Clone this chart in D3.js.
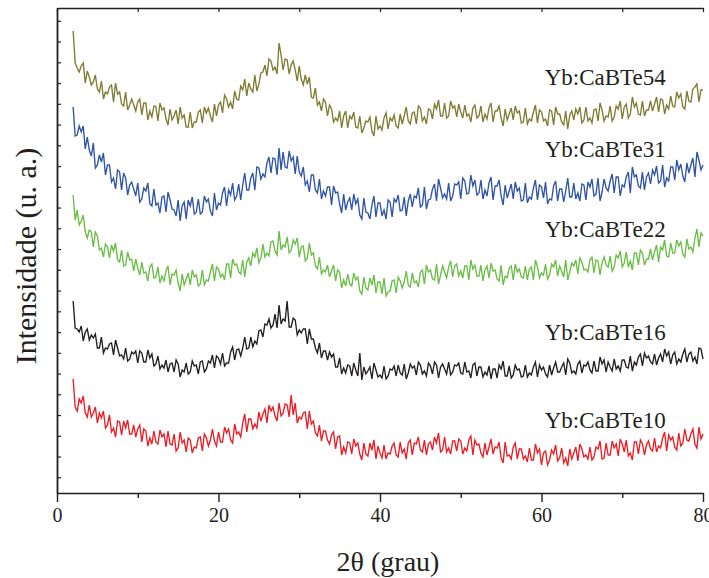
<!DOCTYPE html>
<html>
<head>
<meta charset="utf-8">
<script src="https://cdn.jsdelivr.net/npm/d3@7"></script>
<style>
  html, body { margin: 0; padding: 0; background: #fff; }
  svg { display: block; }
  text { font-family: "Liberation Serif", "Times New Roman", serif; fill: #231f20; }
</style>
</head>
<body>
<svg id="chart" width="709" height="578"></svg>
<script>
// 2θ scan: 2° to 80° in 0.25° steps
const scanStart = 2;
const scanStep = 0.25;

// Stacked XRD patterns (intensity, arbitrary units, already offset for stacking)
const yb54 = [462,430,425,421,427,430,410,422,416,408,411,418,404,401,412,394,401,399,406,408,
  391,410,399,401,389,387,401,383,388,394,388,382,391,394,378,390,390,373,382,376,
  387,386,372,390,383,385,374,368,384,373,377,383,369,386,375,378,366,366,381,365,
  371,371,381,383,370,386,380,385,377,371,389,377,388,391,380,398,394,386,391,384,
  402,394,393,407,403,414,397,410,404,401,418,402,409,420,421,428,417,434,432,423,
  426,419,450,438,423,434,433,419,428,432,423,412,427,414,408,418,409,416,396,395,
  405,388,391,382,394,391,377,388,384,371,375,372,382,365,377,382,365,377,374,381,
  366,365,377,360,365,372,371,376,362,357,377,364,367,363,375,380,364,375,372,378,
  367,365,379,369,377,386,372,369,380,381,369,387,385,372,376,369,384,383,374,389,
  384,393,377,377,390,375,377,392,385,387,376,389,381,375,388,377,379,371,385,388,
  375,377,387,371,379,374,385,390,371,382,382,387,375,367,384,373,379,385,373,387,
  380,382,370,371,385,369,374,372,381,388,370,383,381,372,374,367,383,382,368,386,
  379,379,371,368,382,364,378,382,373,384,379,386,370,373,386,372,375,370,383,384,
  372,390,383,372,377,376,387,372,376,387,384,392,374,386,389,375,379,396,386,390,
  379,378,392,377,383,383,392,382,389,396,381,394,393,379,388,384,397,387,386,401,
  395,399,386,384,402,392,391,404,406,409,391,403,403];

const yb31 = [386,357,358,367,361,367,344,356,343,337,350,325,328,338,331,340,318,328,328,311,
  315,304,323,321,303,320,315,298,308,311,304,297,310,291,294,305,302,310,289,287,
  304,288,290,280,296,297,281,301,293,284,283,277,293,272,287,291,274,293,287,296,
  279,281,294,279,281,297,291,294,282,277,300,283,290,288,300,306,287,303,298,310,
  293,297,309,293,308,320,303,303,315,320,303,326,325,314,319,316,330,336,320,335,
  334,318,345,323,341,326,325,342,332,336,319,337,321,317,326,308,312,301,318,318,
  303,300,314,294,302,297,306,306,288,307,300,301,289,280,299,283,291,295,283,299,
  289,294,278,274,295,281,280,274,288,297,276,290,290,277,283,274,293,291,276,294,
  291,298,282,283,296,277,292,299,286,297,295,305,286,288,306,284,293,294,304,309,
  292,314,305,295,299,294,310,292,297,309,308,311,294,315,312,299,300,318,307,313,
  298,300,313,294,303,297,310,316,293,307,307,313,297,288,308,295,302,309,294,311,
  302,305,292,293,310,290,296,294,305,313,293,308,306,295,311,289,294,293,307,312,
  292,304,304,291,302,315,296,296,310,294,300,292,309,308,293,311,306,314,297,299,
  315,292,301,314,305,302,312,319,300,316,316,297,308,306,316,321,300,326,316,318,
  307,305,321,303,316,320,309,323,318,327,310,312,328,306,315,312,326,326,313,333,
  323,329,317,311,330,320,328,335,316,341,333,323,328];

const yb22 = [298,273,283,268,272,278,261,255,263,261,246,261,257,243,245,236,249,246,235,248,
  242,250,233,231,243,227,228,241,233,234,222,234,225,218,231,220,221,212,226,229,
  215,216,226,210,217,212,222,227,208,219,218,223,210,202,219,208,214,220,208,223,
  216,218,207,209,223,208,213,212,221,229,212,226,224,216,219,213,229,229,215,234,
  228,229,221,219,233,216,231,235,227,240,236,245,230,235,249,236,240,237,251,252,
  242,238,262,243,248,246,256,240,243,253,249,255,236,246,247,232,235,250,238,240,
  227,224,236,219,223,221,228,216,222,228,212,223,221,205,213,207,219,209,207,220,
  213,216,202,199,216,205,203,215,208,218,200,211,211,199,215,197,201,202,212,213,
  200,216,212,205,211,222,208,206,220,210,212,206,221,223,209,228,221,223,214,213,
  229,209,218,227,221,215,226,232,216,227,229,217,222,215,227,227,213,233,224,228,
  217,217,228,212,223,227,215,230,222,223,214,212,228,208,217,215,225,227,213,229,
  221,224,216,215,227,213,224,226,213,233,226,215,220,218,229,214,218,229,226,233,
  217,227,222,216,233,213,221,230,227,233,219,235,231,223,224,221,233,236,220,233,
  232,218,230,236,228,226,237,222,226,238,235,242,226,230,241,226,232,223,240,240,
  228,243,240,228,234,234,244,233,241,248,231,246,243,253,237,236,250,240,240,253,
  247,251,239,236,254,244,246,241,255,264,246,260,257];

const yb16 = [192,165,164,161,167,152,161,164,153,158,155,159,145,145,156,140,145,144,149,150,
  138,153,145,137,138,134,145,132,134,141,139,142,130,142,140,131,131,143,135,139,
  127,129,137,124,128,125,133,121,129,130,121,133,129,116,123,121,130,119,121,132,
  127,128,119,131,132,121,124,132,130,138,125,137,135,129,140,127,130,130,141,146,
  133,143,144,137,145,156,144,145,156,146,152,149,162,163,156,169,168,174,165,168,
  179,165,188,169,174,172,192,166,166,175,173,158,163,160,164,164,149,164,154,154,
  145,140,150,135,142,142,133,141,136,139,126,126,135,119,125,120,128,127,117,130,
  123,117,140,113,126,119,122,126,114,130,123,116,118,115,127,114,117,124,123,127,
  117,128,120,118,129,114,120,129,125,127,118,131,128,119,122,117,130,127,119,131,
  128,115,126,129,124,119,131,118,121,128,127,130,120,119,131,121,122,115,128,130,
  117,126,126,116,121,118,127,114,124,124,115,128,124,132,117,117,127,115,118,128,
  123,124,116,117,128,116,120,118,126,131,116,128,123,126,119,116,128,118,125,131,
  121,121,126,130,118,134,130,120,122,119,129,132,120,128,127,131,123,120,132,122,
  122,136,129,133,121,131,126,122,134,124,127,122,133,133,126,125,137,122,131,128,
  136,139,127,140,135,137,131,129,139,128,135,139,131,144,137,141,129,138,141,129,
  134,131,139,144,131,139,141,132,136,129,145,144,134];

const yb10 = [114,86,82,94,90,97,80,76,88,76,80,86,70,80,75,82,65,68,78,61,
  65,56,72,71,58,72,65,73,59,59,68,56,64,68,51,64,62,47,55,49,
  62,51,49,63,56,59,46,62,49,48,59,42,45,61,50,53,41,55,53,40,
  46,45,55,56,42,59,55,47,53,64,52,47,61,51,51,66,60,64,53,50,
  69,59,61,56,70,79,61,74,74,64,69,65,81,72,79,84,70,88,82,86,
  77,72,90,77,80,89,88,76,98,78,90,70,76,74,80,81,64,82,69,72,
  60,57,68,52,62,62,53,49,58,61,44,56,57,38,46,40,51,50,39,54,
  47,50,39,33,50,39,37,50,43,53,34,47,40,35,48,34,40,39,47,50,
  38,36,51,40,44,34,50,53,38,50,49,56,43,41,53,38,49,51,43,56,
  50,60,41,43,56,41,45,39,52,52,42,54,52,39,45,42,53,57,38,53,
  48,49,40,36,50,38,46,54,39,46,45,51,35,30,51,37,38,34,46,50,
  34,44,44,34,37,31,45,33,33,49,40,44,28,40,42,28,33,43,39,48,
  32,35,45,30,35,27,44,34,40,46,32,49,44,36,38,34,46,33,36,46,
  44,52,34,35,50,38,38,52,45,49,37,54,49,41,53,37,40,33,51,51,
  39,53,49,38,48,52,44,42,55,41,47,45,55,61,42,58,53,56,46,43,
  60,47,50,64,53,52,59,64,49,45,66,54,59];

const seriesNames = ["Yb:CaBTe54", "Yb:CaBTe31", "Yb:CaBTe22", "Yb:CaBTe16", "Yb:CaBTe10"];
const seriesColors = ["#7f7b33", "#2f54a6", "#6abd45", "#231f20", "#ed1c24"];
const seriesValues = [yb54, yb31, yb22, yb16, yb10];
// label baselines in intensity units, placed above each pattern's tail
const labelLevels = [408, 336, 256, 153, 65];

const xMajorTicks = [0, 20, 40, 60, 80];
const xMinorTicks = [10, 30, 50, 70];
const xTitle = "2\u03b8 (grau)";
const yTitle = "Intensidade (u. a.)";

const svg = d3.select("#chart");
const ink = "#231f20";

const x = d3.scaleLinear().domain([0, 80]).range([57, 703]);
const y = d3.scaleLinear().domain([0, 485]).range([493, 8]);

// unlabeled intensity ticks on the left axis
const yTickValues = d3.range(0, 23).map(i => 15.7 + i * 20.75);

// patterns
const line = d3.line()
  .x((d, i) => x(scanStart + i * scanStep))
  .y(d => y(d));

svg.append("g")
  .selectAll("path")
  .data(seriesValues)
  .join("path")
  .attr("d", d => line(d))
  .attr("fill", "none")
  .attr("stroke", (d, i) => seriesColors[i])
  .attr("stroke-width", 1.35)
  .attr("stroke-linejoin", "miter");

// series labels
svg.append("g")
  .selectAll("text")
  .data(seriesNames)
  .join("text")
  .attr("x", x(60.4))
  .attr("y", (d, i) => y(labelLevels[i]))
  .attr("font-size", 23)
  .text(d => d);

// bottom axis: major + minor ticks
const bottomAxis = svg.append("g").attr("transform", `translate(0,${y(0)})`);
bottomAxis.call(d3.axisBottom(x).tickValues(xMajorTicks).tickSize(9).tickSizeOuter(0).tickPadding(6).tickFormat(d3.format("d")));
bottomAxis.append("g").call(d3.axisBottom(x).tickValues(xMinorTicks).tickSize(5).tickFormat(""))
  .select(".domain").remove();
bottomAxis.selectAll(".domain").attr("stroke", ink).attr("stroke-width", 1.6);
bottomAxis.selectAll(".tick line").attr("stroke", ink).attr("stroke-width", 1.4);
bottomAxis.selectAll(".tick text")
  .attr("font-size", 20)
  .attr("font-family", "Liberation Serif, Times New Roman, serif")
  .attr("fill", ink);

// top axis: inward ticks, no labels
const topAxis = svg.append("g").attr("transform", `translate(0,${y(485)})`);
topAxis.call(d3.axisTop(x).tickValues(d3.merge([xMajorTicks, xMinorTicks])).tickSizeInner(-4).tickSizeOuter(0).tickFormat(""));
topAxis.selectAll(".domain").attr("stroke", ink).attr("stroke-width", 1.6);
topAxis.selectAll(".tick line").attr("stroke", ink).attr("stroke-width", 1.2);

// left axis: inward ticks, no labels
const leftAxis = svg.append("g").attr("transform", `translate(${x(0)},0)`);
leftAxis.call(d3.axisLeft(y).tickValues(yTickValues).tickSizeInner(-4).tickSizeOuter(0).tickFormat(""));
leftAxis.selectAll(".domain").attr("stroke", ink).attr("stroke-width", 1.8);
leftAxis.selectAll(".tick line").attr("stroke", ink).attr("stroke-width", 1.2);

// axis titles
svg.append("text")
  .attr("x", 388)
  .attr("y", 571)
  .attr("text-anchor", "middle")
  .attr("font-size", 28)
  .text(xTitle);

svg.append("text")
  .attr("transform", "translate(36,256) rotate(-90)")
  .attr("text-anchor", "middle")
  .attr("font-size", 30)
  .text(yTitle);
</script>
</body>
</html>
